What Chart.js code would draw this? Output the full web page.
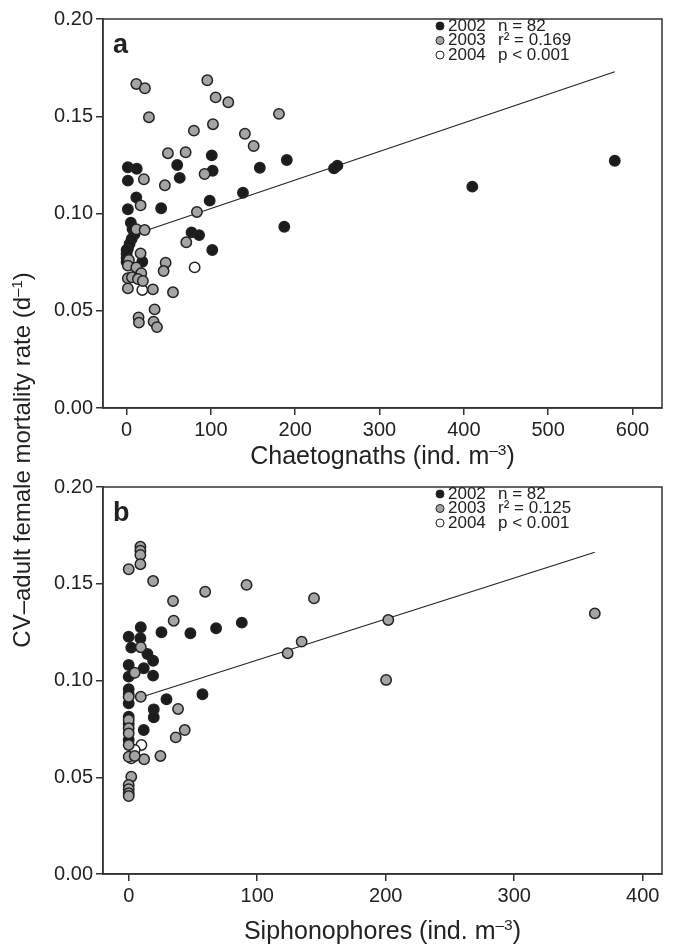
<!DOCTYPE html>
<html>
<head>
<meta charset="utf-8">
<script src="https://cdn.jsdelivr.net/npm/chart.js@4.4.1/dist/chart.umd.min.js"></script>
<style>
  body { margin: 0; background: #fff; font-family: "Liberation Sans", Arial, sans-serif; color: #222; }
  #page { position: relative; width: 679px; height: 948px; overflow: hidden; }
  .panel { position: absolute; left: 0; width: 679px; }
  .xtitle { position: absolute; left: 103px; width: 559px; text-align: center; font-size: 25px; line-height: 28px; }
  .ytitle { position: absolute; width: 700px; left: -328px; top: 446px; text-align: center; font-size: 24px; line-height: 28px; transform: rotate(-90deg); }
  sup { font-size: 0.62em; vertical-align: 0.55em; line-height: 0; }
</style>
</head>
<body>
<div id="page">
  <div class="panel" style="top:0;height:470px"><canvas id="chart-a"></canvas></div>
  <div class="panel" style="top:470px;height:478px"><canvas id="chart-b"></canvas></div>
  <div class="xtitle" style="top:441px">Chaetognaths (ind. m<sup>–3</sup>)</div>
  <div class="xtitle" style="top:916px">Siphonophores (ind. m<sup>–3</sup>)</div>
  <div class="ytitle">CV–adult female mortality rate (d<sup>–1</sup>)</div>
</div>
<script>
const yTicks = [0, 0.05, 0.10, 0.15, 0.20];
const xTicksA = [0, 100, 200, 300, 400, 500, 600];
const xTicksB = [0, 100, 200, 300, 400];
const years = ["2002", "2003", "2004"];

// panel a: chaetognaths
const aX2002 = [1.5, 12, 1.5, 60, 63, 101, 102, 158, 190, 11.5, 1.5, 41, 98.5, 138, 246, 250, 410, 579, 5, 7, 9.5, 6, 3.5, 1.5, 0, 0, 0, 18.6, 77, 86, 101.6, 187, 0];
const aY2002 = [0.1238, 0.1230, 0.1169, 0.1249, 0.1183, 0.1299, 0.1220, 0.1235, 0.1275, 0.1083, 0.1022, 0.1027, 0.1066, 0.1107, 0.1232, 0.1246, 0.1138, 0.1271, 0.0953, 0.0920, 0.0895, 0.0869, 0.0843, 0.0817, 0.0792, 0.0771, 0.0751, 0.0752, 0.0903, 0.0889, 0.0812, 0.0932, 0.0812];
const aX2003 = [11.5, 21.7, 95.7, 105.6, 120.6, 180.7, 26.5, 79.8, 102.4, 140.3, 150.7, 49, 70, 92.5, 20.5, 45.4, 16.6, 83.4, 11.5, 21.4, 70.8, 16.6, 46.3, 43.9, 2.7, 1.5, 11.5, 17.4, 1.5, 6.3, 13.4, 19.3, 1.5, 31.2, 55, 33.2, 14.2, 14.6, 32, 36];
const aY2003 = [0.1666, 0.1644, 0.1685, 0.1597, 0.1572, 0.1512, 0.1495, 0.1426, 0.1459, 0.1410, 0.1347, 0.1310, 0.1315, 0.1203, 0.1176, 0.1145, 0.1042, 0.1008, 0.0919, 0.0915, 0.0852, 0.0795, 0.0747, 0.0704, 0.0761, 0.0732, 0.0723, 0.0693, 0.0667, 0.0672, 0.0663, 0.0653, 0.0615, 0.0610, 0.0595, 0.0507, 0.0466, 0.0439, 0.0444, 0.0416];
const aX2004 = [80.7, 18.6];
const aY2004 = [0.0723, 0.0607];
const lineAX = [21.4, 579];
const lineAY = [0.0910, 0.1729];
const statsA = ["n = 82", "r² = 0.169", "p < 0.001"];

// panel b: siphonophores
const bX2002 = [9.4, 0, 9.1, 25.5, 48, 68, 88, 2, 14.6, 19, 0, 11.7, 0, 19, 0, 0, 0, 29.4, 57.4, 19.5, 19.5, 0, 0, 11.7, 0];
const bY2002 = [0.1275, 0.1226, 0.1218, 0.1249, 0.1244, 0.1270, 0.1299, 0.1170, 0.1137, 0.1102, 0.1080, 0.1063, 0.1020, 0.1025, 0.0955, 0.0929, 0.0882, 0.0903, 0.0929, 0.0851, 0.0810, 0.0813, 0.0775, 0.0744, 0.0693];
const bX2003 = [9.1, 9.1, 9.1, 9.1, 0, 19, 34.5, 59.5, 91.7, 35, 144.2, 202, 134.6, 123.7, 200.3, 362.7, 9.4, 4.7, 0, 9.4, 38.4, 43.6, 36.6, 0, 0, 0, 0, 0, 12, 24.7, 4.7, 2, 0, 0, 0, 0];
const bY2003 = [0.1691, 0.1671, 0.1649, 0.1601, 0.1575, 0.1514, 0.1411, 0.1459, 0.1494, 0.1309, 0.1425, 0.1313, 0.1201, 0.1141, 0.1003, 0.1347, 0.1172, 0.1040, 0.0916, 0.0916, 0.0853, 0.0744, 0.0706, 0.0796, 0.0753, 0.0727, 0.0667, 0.0606, 0.0593, 0.0610, 0.0610, 0.0503, 0.0460, 0.0438, 0.0417, 0.0403];
const bX2004 = [9.9, 4.7, 2];
const bY2004 = [0.0667, 0.0641, 0.0598];
const lineBX = [12.5, 362.7];
const lineBY = [0.0920, 0.1663];
const statsB = ["n = 82", "r² = 0.125", "p < 0.001"];

const fillColors = ["#1c1c1c", "#a4a4a4", "#ffffff"];
const edgeColor = "#222";
const fontFamily = '"Liberation Sans", Arial, sans-serif';

function toPoints(xs, ys) {
    return xs.map((x, i) => ({ x: x, y: ys[i] }));
}

function scatterSet(label, xs, ys, colorIndex, order) {
    return {
        type: "scatter",
        label: label,
        data: toPoints(xs, ys),
        backgroundColor: fillColors[colorIndex],
        borderColor: edgeColor,
        borderWidth: 1.5,
        pointRadius: 5.2,
        order: order
    };
}

// frame, panel letter and the little legend inside the plot
const panelDecor = {
    id: "panelDecor",
    afterDraw(chart, args, opts) {
        const ctx = chart.ctx;
        const area = chart.chartArea;
        ctx.save();
        ctx.strokeStyle = "#333";
        ctx.lineWidth = 1.5;
        ctx.strokeRect(area.left, area.top, area.right - area.left, area.bottom - area.top);

        ctx.fillStyle = "#222";
        ctx.font = "bold 27px " + fontFamily;
        ctx.textBaseline = "middle";
        ctx.textAlign = "left";
        ctx.fillText(opts.letter, area.left + 10, area.top + 27);

        ctx.font = "17px " + fontFamily;
        for (let i = 0; i < 3; i++) {
            const y = area.top + 7 + i * 14.5;
            const ds = chart.data.datasets[i];
            ctx.beginPath();
            ctx.arc(area.left + 337, y, 4, 0, Math.PI * 2);
            ctx.fillStyle = ds.backgroundColor;
            ctx.fill();
            ctx.lineWidth = 1;
            ctx.strokeStyle = edgeColor;
            ctx.stroke();
            ctx.fillStyle = "#222";
            ctx.fillText(years[i], area.left + 345, y);
            ctx.fillText(opts.stats[i], area.left + 395, y);
        }
        ctx.restore();
    }
};

function drawPanel(canvasId, sets, xMin, xMax, xTicks, letter, stats, topPad, xHeight) {
    const axisStyle = {
        grid: { drawOnChartArea: false, drawTicks: true, tickLength: 7, color: "#333", lineWidth: 1.5 },
        border: { color: "#333", width: 1.5 },
        ticks: { color: "#222", font: { family: fontFamily, size: 20 }, padding: 3 }
    };

    return new Chart(document.getElementById(canvasId), {
        data: { datasets: sets },
        options: {
            responsive: true,
            maintainAspectRatio: false,
            animation: false,
            layout: { padding: { left: 43, right: 17, top: topPad, bottom: 0 } },
            plugins: {
                legend: { display: false },
                tooltip: { enabled: false },
                panelDecor: { letter: letter, stats: stats }
            },
            scales: {
                x: Object.assign({}, axisStyle, {
                    type: "linear",
                    min: xMin,
                    max: xMax,
                    afterBuildTicks: s => { s.ticks = xTicks.map(v => ({ value: v })); },
                    afterFit: s => { s.height = xHeight; }
                }),
                y: Object.assign({}, axisStyle, {
                    type: "linear",
                    min: 0,
                    max: 0.2,
                    afterBuildTicks: s => { s.ticks = yTicks.map(v => ({ value: v })); },
                    afterFit: s => { s.width = 60; },
                    ticks: Object.assign({}, axisStyle.ticks, { callback: v => v.toFixed(2) })
                })
            }
        },
        plugins: [panelDecor]
    });
}

function lineSet(xs, ys) {
    return {
        type: "line",
        data: toPoints(xs, ys),
        borderColor: "#222",
        borderWidth: 1.2,
        pointRadius: 0,
        fill: false,
        order: 5
    };
}

drawPanel("chart-a", [
    scatterSet("2002", aX2002, aY2002, 0, 3),
    scatterSet("2003", aX2003, aY2003, 1, 1),
    scatterSet("2004", aX2004, aY2004, 2, 2),
    lineSet(lineAX, lineAY)
], -28, 635, xTicksA, "a", statsA, 19, 62);

drawPanel("chart-b", [
    scatterSet("2002", bX2002, bY2002, 0, 3),
    scatterSet("2003", bX2003, bY2003, 1, 1),
    scatterSet("2004", bX2004, bY2004, 2, 2),
    lineSet(lineBX, lineBY)
], -20, 415, xTicksB, "b", statsB, 17, 74);
</script>
</body>
</html>
